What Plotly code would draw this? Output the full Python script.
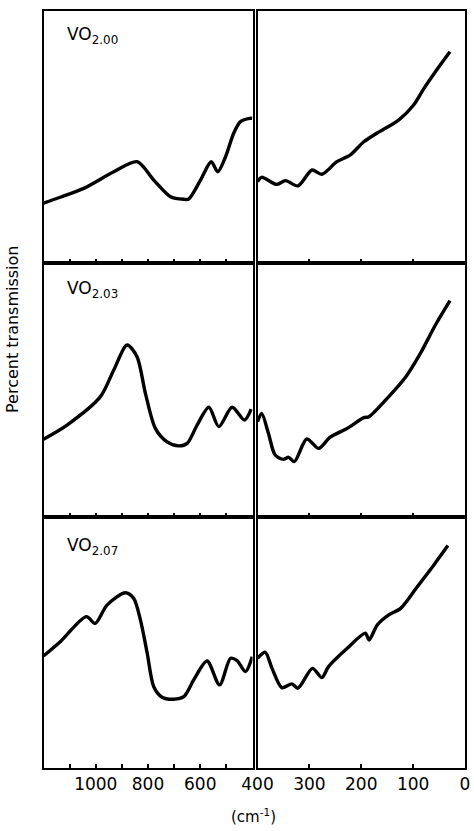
import plotly.graph_objects as go

W, H = 474, 831

labels = ["VO<sub>2.00</sub>", "VO<sub>2.03</sub>", "VO<sub>2.07</sub>"]

# Left panels: 1200-400 cm-1 ; right panels: 400-0 cm-1 ; y in arbitrary % transmission (0-100 per panel)
p1_left_x = [1200, 1136, 1046, 931, 842, 778, 714, 663, 644, 599, 558, 533, 503, 472, 446, 410, 401]
p1_left_y = [23.8, 26.1, 29.6, 36.2, 40.2, 32.9, 26.3, 25.3, 25.4, 32.9, 40.2, 36.2, 42.2, 51.5, 56.1, 57.4, 57.4]
p1_right_x = [400, 392, 363, 346, 322, 295, 276, 247, 221, 195, 170, 128, 99, 79, 57, 29]
p1_right_y = [32.3, 34.0, 31.2, 32.7, 30.6, 36.9, 35.2, 40.2, 42.9, 48.1, 51.5, 56.7, 62.7, 69.3, 75.9, 83.8]

p2_left_x = [1200, 1110, 982, 931, 880, 842, 810, 772, 727, 682, 650, 612, 567, 529, 478, 431, 405]
p2_left_y = [30.6, 36.2, 47.4, 57.9, 67.7, 63.1, 48.7, 34.9, 29.6, 28.0, 29.0, 36.2, 43.2, 35.6, 43.2, 38.2, 42.5]
p2_right_x = [400, 392, 379, 366, 350, 340, 329, 305, 282, 260, 227, 195, 185, 150, 114, 86, 57, 29]
p2_right_y = [37.5, 40.8, 33.0, 24.4, 22.7, 23.5, 21.8, 30.7, 27.0, 31.4, 34.9, 39.1, 39.5, 46.7, 55.2, 64.4, 75.6, 85.2]

p3_left_x = [1200, 1136, 1036, 1002, 957, 887, 855, 829, 803, 778, 746, 702, 663, 625, 574, 526, 484, 459, 427, 401]
p3_left_y = [44.6, 50.3, 60.3, 57.6, 64.9, 69.8, 67.6, 59.0, 45.7, 32.4, 28.2, 27.4, 28.4, 35.1, 42.6, 33.1, 43.7, 42.8, 38.4, 44.3]
p3_right_x = [400, 385, 372, 353, 334, 322, 294, 276, 263, 227, 192, 185, 169, 147, 124, 92, 60, 33]
p3_right_y = [43.7, 46.1, 39.7, 32.0, 33.5, 31.8, 39.7, 36.0, 40.4, 47.7, 53.7, 51.0, 57.0, 61.0, 63.6, 72.2, 80.9, 88.6]

left_ticks = [1000, 800, 600]
left_ticktext = ["1000", "800", "600"]
left_minor_ticks = [1100, 900, 700, 500]
right_ticks = [400, 300, 200, 100, 0]
right_ticktext = ["400", "300", "200", "100", "0"]

series = [
    (p1_left_x, p1_left_y, p1_right_x, p1_right_y),
    (p2_left_x, p2_left_y, p2_right_x, p2_right_y),
    (p3_left_x, p3_left_y, p3_right_x, p3_right_y),
]

# pixel geometry -> paper
def px(x):
    return x / W

def py(y):
    return 1 - y / H

row_bounds = [(11, 263), (263, 517), (517, 768)]
left_dom = [px(43.5), px(252.5)]
right_dom = [px(257.5), px(465)]

fig = go.Figure()
layout = dict(
    width=W, height=H,
    margin=dict(l=0, r=0, t=0, b=0),
    paper_bgcolor="white", plot_bgcolor="white",
    showlegend=False,
    template="none",
    font=dict(family="DejaVu Sans", color="black"),
)

for r, (lx, ly, rx, ry) in enumerate(series):
    li = 2 * r + 1
    ri = 2 * r + 2
    fig.add_trace(go.Scatter(x=lx, y=ly, mode="lines",
                             line=dict(color="black", width=3.4, shape="spline", smoothing=0.8),
                             xaxis=f"x{li}", yaxis=f"y{li}"))
    fig.add_trace(go.Scatter(x=rx, y=ry, mode="lines",
                             line=dict(color="black", width=3.4, shape="spline", smoothing=0.8),
                             xaxis=f"x{ri}", yaxis=f"y{ri}"))
    top, bot = row_bounds[r]
    ydom = [py(bot), py(top)]
    last = (r == 2)
    common_x = dict(showline=True, mirror=True, linecolor="black", linewidth=2,
                    ticks="inside", ticklen=4, tickwidth=2, tickcolor="black",
                    showgrid=False, zeroline=False, automargin=False,
                    tickfont=dict(family="DejaVu Sans", size=17, color="black"),
                    showticklabels=last, fixedrange=True)
    layout[f"xaxis{li}"] = dict(common_x, domain=left_dom, range=[1200, 400],
                                tickmode="array", tickvals=left_ticks, ticktext=left_ticktext,
                                minor=dict(tickmode="array", tickvals=left_minor_ticks,
                                           ticks="inside", ticklen=4, tickwidth=2,
                                           tickcolor="black", showgrid=False),
                                anchor=f"y{li}")
    layout[f"xaxis{ri}"] = dict(common_x, domain=right_dom, range=[400, 0],
                                tickmode="array", tickvals=right_ticks, ticktext=right_ticktext,
                                anchor=f"y{ri}")
    common_y = dict(showline=True, mirror=True, linecolor="black", linewidth=2,
                    ticks="", showticklabels=False, showgrid=False, zeroline=False,
                    range=[0, 100], domain=ydom, automargin=False, fixedrange=True)
    layout[f"yaxis{li}"] = dict(common_y, anchor=f"x{li}")
    layout[f"yaxis{ri}"] = dict(common_y, anchor=f"x{ri}")

fig.update_layout(**layout)

label_y = [36, 289, 546]
for r in range(3):
    fig.add_annotation(x=px(65), y=py(label_y[r]), xref="paper", yref="paper",
                       text=labels[r], showarrow=False, xanchor="left", yanchor="middle",
                       font=dict(family="DejaVu Sans", size=17, color="black"))

fig.add_annotation(x=px(12), y=py(329), xref="paper", yref="paper",
                   text="Percent transmission", textangle=-90, showarrow=False,
                   xanchor="center", yanchor="middle",
                   font=dict(family="DejaVu Sans", size=16, color="black"))
fig.add_annotation(x=px(253), y=py(816), xref="paper", yref="paper",
                   text="(cm<sup>-1</sup>)", showarrow=False,
                   xanchor="center", yanchor="middle",
                   font=dict(family="DejaVu Sans", size=15, color="black"))

fig.write_html("out.html",
               config={"displayModeBar": False},
               post_script="document.body.style.margin='0';document.body.style.padding='0';document.body.style.overflow='hidden';")
